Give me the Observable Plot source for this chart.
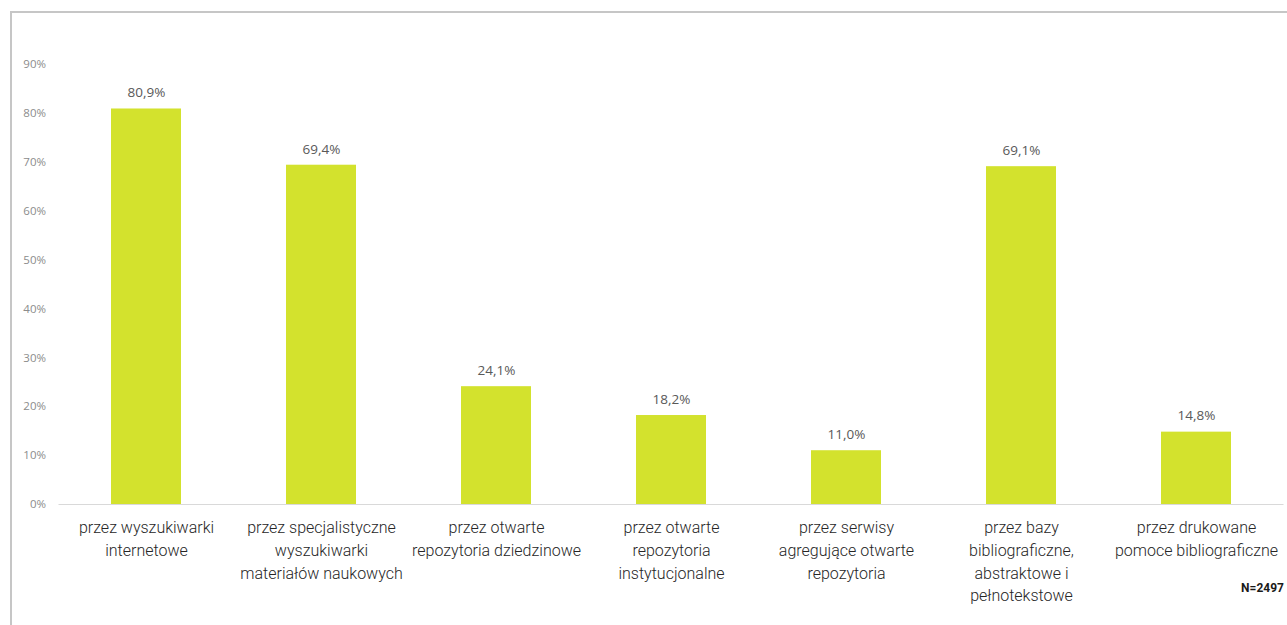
<!DOCTYPE html>
<html>
<head>
<meta charset="utf-8">
<script src="https://cdn.jsdelivr.net/npm/d3@7"></script>
<script src="https://cdn.jsdelivr.net/npm/@observablehq/plot@0.6"></script>
<style>
  html, body { margin: 0; padding: 0; background: #fff; overflow: hidden; width: 1287px; height: 625px; }
  #wrap { position: relative; width: 1287px; height: 625px; font-family: Roboto, "Noto Sans", sans-serif; }
  #frame { position: absolute; left: 10px; top: 11px; width: 2000px; height: 2000px; border: 2px solid #c6c6c6; box-sizing: border-box; }
  #chart { position: absolute; left: 0; top: 0; }
  #note { position: absolute; right: 3px; top: 581px; font-size: 12px; font-weight: 700; color: #1a1a1a; }
</style>
</head>
<body>
<div id="wrap">
  <div id="frame"></div>
  <div id="chart"></div>
  <div id="note">N=2497</div>
</div>
<script>
const categories = [
  "przez wyszukiwarki\ninternetowe",
  "przez specjalistyczne\nwyszukiwarki\nmateriałów naukowych",
  "przez otwarte\nrepozytoria dziedzinowe",
  "przez otwarte\nrepozytoria\ninstytucjonalne",
  "przez serwisy\nagregujące otwarte\nrepozytoria",
  "przez bazy\nbibliograficzne,\nabstraktowe i\npełnotekstowe",
  "przez drukowane\npomoce bibliograficzne"
];
const values = [80.9, 69.4, 24.1, 18.2, 11.0, 69.1, 14.8];
const yTicks = [0, 10, 20, 30, 40, 50, 60, 70, 80, 90];

const data = categories.map((c, i) => ({category: c, value: values[i]}));

const chart = Plot.plot({
  width: 1287,
  height: 625,
  marginLeft: 58.5,
  marginRight: 3.5,
  marginTop: 64,
  marginBottom: 121,
  style: {fontFamily: "Roboto, 'Noto Sans', sans-serif", background: "transparent"},
  x: {domain: categories, paddingInner: 0.6, paddingOuter: 0.3, label: null},
  y: {domain: [0, 90], label: null},
  marks: [
    Plot.barY(data, {x: "category", y: "value", fill: "#d3e22d"}),
    Plot.ruleY([0], {stroke: "#d9d9d9", strokeWidth: 1}),
    Plot.text(data, {
      x: "category", y: "value",
      text: d => d.value.toFixed(1).replace(".", ",") + "%",
      dy: -16, fontSize: 13.5, fontWeight: "normal", fill: "#595959",
      fontFamily: "'Open Sans', sans-serif"
    }),
    Plot.axisY({
      ticks: yTicks, tickSize: 0, tickPadding: 13,
      tickFormat: d => d + "%", fontSize: 11.5, color: "#8c8c8c", label: null,
      fontFamily: "'Open Sans', sans-serif"
    }),
    Plot.axisX({
      tickSize: 0, tickPadding: 12, fontSize: 16, lineHeight: 1.43,
      fontWeight: 300, color: "#262626", label: null, textOverflow: null
    })
  ]
});
document.getElementById("chart").appendChild(chart);
</script>
</body>
</html>
